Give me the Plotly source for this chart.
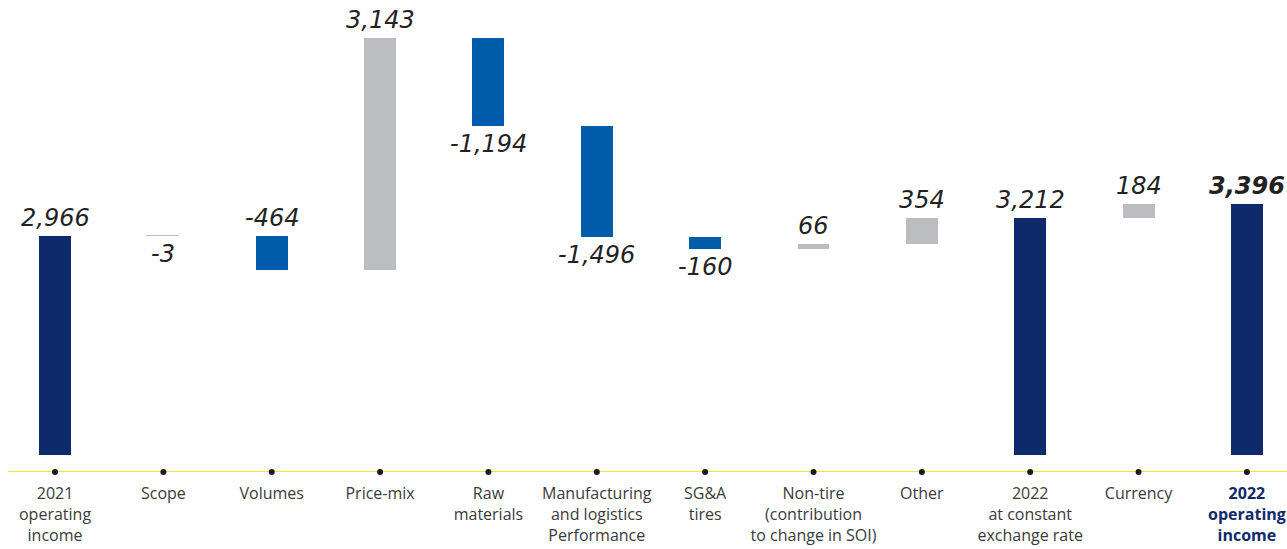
import plotly.graph_objects as go

categories = ["2021<br>operating<br>income", "Scope", "Volumes", "Price-mix", "Raw<br>materials",
              "Manufacturing<br>and logistics<br>Performance", "SG&A<br>tires",
              "Non-tire<br>(contribution<br>to change in SOI)", "Other",
              "2022<br>at constant<br>exchange rate", "Currency",
              "<b><span style='color:#0F2A6B'>2022<br>operating<br>income</span></b>"]
values = [2966, -3, -464, 3143, -1194, -1496, -160, 66, 354, 3212, 184, 3396]
kinds = ["total", "relative", "relative", "relative", "relative", "relative", "relative",
         "relative", "relative", "total", "relative", "total"]
label_side = ["above", "below", "above", "above", "below", "below", "below",
              "above", "above", "above", "above", "above"]

NAVY = "#0F2A6B"
BLUE = "#005BAA"
GRAY = "#BCBDC0"

x = list(range(len(values)))
bases, heights, colors = [], [], []
running = 0
for v, k in zip(values, kinds):
    if k == "total":
        bases.append(0)
        heights.append(v)
        colors.append(NAVY)
        running = v
    else:
        bases.append(running)
        heights.append(v)
        colors.append(GRAY if (v > 0 or abs(v) < 10) else BLUE)
        running += v

line_w = [1 if abs(h) < 10 else 0 for h in heights]

fig = go.Figure()
fig.add_trace(go.Bar(
    x=x, y=heights, base=bases, width=0.295,
    marker=dict(color=colors, line=dict(color=colors, width=line_w)),
    hoverinfo="skip",
))

ymin, ymax = -230, 6020
fig.add_trace(go.Scatter(
    x=x, y=[ymin] * len(x), mode="markers",
    marker=dict(color="#1a1a1a", size=6), cliponaxis=False, hoverinfo="skip",
))

for i, (b, h, v, side) in enumerate(zip(bases, heights, values, label_side)):
    top = max(b, b + h)
    bot = min(b, b + h)
    last = i == len(values) - 1
    f = dict(family="DejaVu Sans", size=24, color="#222222", style="italic",
             weight=700 if last else 400)
    if side == "above":
        fig.add_annotation(x=i, y=top, text=f"{v:,}", showarrow=False, yanchor="bottom", yshift=2,
                           font=f)
    else:
        fig.add_annotation(x=i, y=bot, text=f"{v:,}", showarrow=False, yanchor="top", yshift=-2,
                           font=f)

fig.update_layout(
    width=1287, height=549,
    margin=dict(l=8, r=0, t=10, b=77),
    paper_bgcolor="white", plot_bgcolor="white",
    showlegend=False, bargap=0,
    xaxis=dict(range=[-0.434, 11.37], tickmode="array", tickvals=x, ticktext=categories,
               showgrid=False, zeroline=False, showline=False, ticks="",
               ticklabelstandoff=10, ticklabeloverflow="allow",
               tickfont=dict(family="Open Sans", size=16, color="#3a3a3a")),
    yaxis=dict(range=[ymin, ymax], visible=False, showgrid=False, zeroline=False),
    shapes=[dict(type="line", xref="paper", yref="y", x0=0, x1=1, y0=ymin, y1=ymin,
                 line=dict(color="#F3E52B", width=2), layer="below")],
)

fig.write_html("out.html")
